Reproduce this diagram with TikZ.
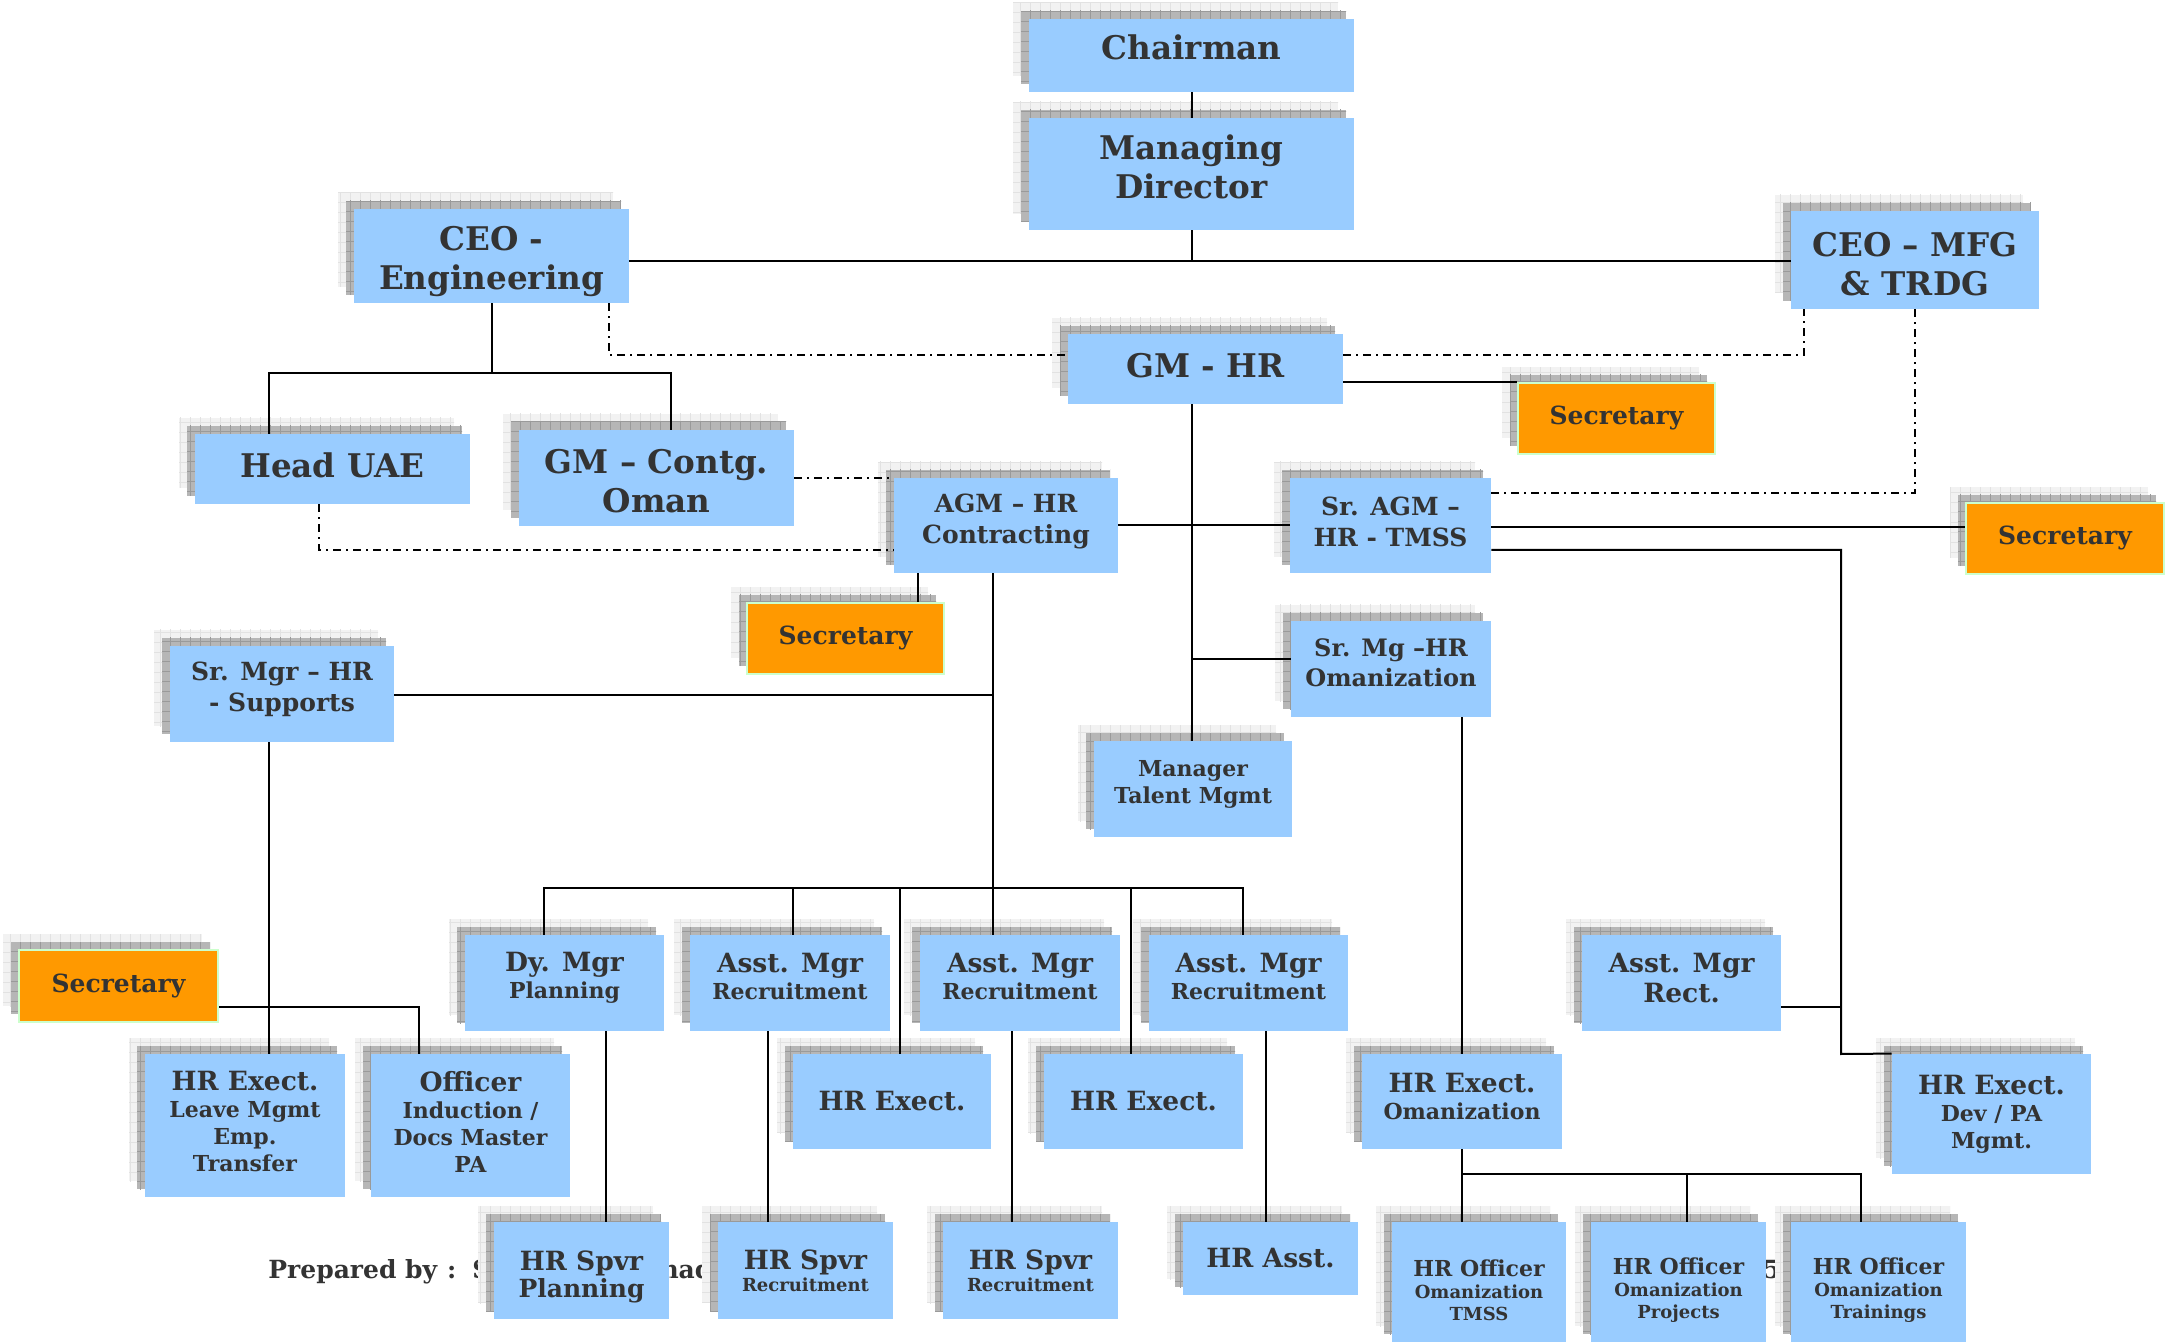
\documentclass[tikz,border=0pt]{standalone}
\usepackage{fontspec}
\setmainfont{DejaVu Serif}
\usetikzlibrary{shadows,patterns.meta}
\definecolor{boxblue}{HTML}{99CCFF}
\definecolor{secorange}{HTML}{FF9900}
\definecolor{secgreen}{HTML}{CCFFCC}
\definecolor{shlight}{HTML}{F2F2F2}
\definecolor{shlightline}{HTML}{E2E2E2}
\definecolor{shdark}{HTML}{B6B6B6}
\definecolor{shdarkline}{HTML}{9A9A9A}
\definecolor{txt}{HTML}{333333}
\newcommand\fszA{\bfseries\fontsize{16.3}{19.5}\selectfont}
\newcommand\fszB{\bfseries\fontsize{12.5}{15.5}\selectfont}
\newcommand\fszBs{\bfseries\fontsize{12}{15}\selectfont}
\newcommand\fszC{\bfseries\fontsize{13.25}{15}\selectfont}
\newcommand\fszD{\bfseries\fontsize{11}{13.5}\selectfont}
\newcommand\fszE{\bfseries\fontsize{12.5}{13.5}\selectfont}
\newcommand\fszF{\bfseries\fontsize{9}{11}\selectfont}
\newcommand\pushdown[1]{\rule{0pt}{#1}}
\tikzset{
  box/.style={fill=boxblue, text=txt, align=center, inner sep=0pt,
    copy shadow={shadow xshift=-8pt, shadow yshift=8pt, fill=shlight, draw=none,
      postaction={pattern={Hatch[distance=5pt, angle=0, line width=0.4pt]}, pattern color=shlightline}},
    copy shadow={shadow xshift=-4pt, shadow yshift=4pt, fill=shdark, draw=none,
      postaction={pattern={Hatch[distance=5pt, angle=0, line width=0.5pt]}, pattern color=shdarkline}}},
  secbox/.style={box, fill=secorange, draw=secgreen, line width=1pt},
  wh/.style 2 args={minimum width=#1*0.5pt, minimum height=#2*0.5pt},
  conn/.style={line width=1pt, draw=black},
  dd/.style={line width=0.75pt, draw=black, dash pattern=on 4pt off 2.5pt on 1pt off 2.5pt},
}
\begin{document}
\begin{tikzpicture}[x=0.5pt, y=-0.5pt]
\fill[white] (0,0) rectangle (2165,1342);
\useasboundingbox (0,0) rectangle (2165,1342);

% footer text (partly hidden behind boxes)
\node[font=\fszB, text=txt, anchor=base west, inner sep=0pt] (prep) at (268,1278) {Prepared by\hspace{5pt}:\hspace{8pt}Syed Mohammad};
\node[font=\fszB, text=txt, anchor=base east, inner sep=0pt] (five) at (1781,1278) {5};

% boxes
\node[box, wh={325}{73}, font=\fszA, text depth=8pt] (chair) at (1191.5,55.5) {Chairman};
\node[box, wh={325}{112}, font=\fszA, text depth=7pt] (md) at (1191.5,174) {Managing\\Director};
\node[box, wh={275}{94}, font=\fszA] (ceoe) at (491.5,256) {\pushdown{18pt}CEO -\\Engineering};
\node[box, wh={248}{98}, font=\fszA] (ceom) at (1915,260) {\pushdown{16pt}CEO – MFG\\\& TRDG};
\node[box, wh={275}{70}, font=\fszA, text depth=4pt] (gmhr) at (1205.5,369) {GM - HR};
\node[secbox, wh={197}{71}, font=\fszB] (sec1) at (1616.5,418.5) {Secretary};
\node[box, wh={275}{70}, font=\fszA, text depth=4pt] (huae) at (332.5,469) {Head UAE};
\node[box, wh={275}{96}, font=\fszA] (gmc) at (656.5,478) {\pushdown{15.5pt}GM – Contg.\\Oman};
\node[box, wh={224}{95}, font=\fszB, text depth=7pt] (agm) at (1006,525.5) {AGM – HR\\Contracting};
\node[box, wh={201}{95}, font=\fszB, text depth=4pt] (sragm) at (1390.5,525.5) {Sr. AGM –\\HR - TMSS};
\node[secbox, wh={198}{71}, font=\fszB] (sec2) at (2065,538.5) {Secretary};
\node[secbox, wh={197}{71}, font=\fszB] (sec3) at (845.5,638.5) {Secretary};
\node[box, wh={224}{96}, font=\fszB, text depth=7pt] (srsup) at (282,694) {Sr. Mgr – HR\\- Supports};
\node[box, wh={200}{96}, font=\fszBs, text depth=6pt] (sromn) at (1391,669) {Sr. Mg –HR\\Omanization};
\node[box, wh={198}{96}, font=\fszD, text depth=7.5pt] (mtm) at (1193,789) {Manager\\Talent Mgmt};
\node[secbox, wh={199}{72}, font=\fszB] (sec4) at (118.5,986) {Secretary};

\node[box, wh={199}{96}, font=\fszD, text depth=7.5pt] (dym) at (564.5,983) {{\fszC Dy. Mgr}\\Planning};
\node[box, wh={200}{96}, font=\fszD, text depth=7pt] (am1) at (790,983) {{\fszC Asst. Mgr}\\Recruitment};
\node[box, wh={200}{96}, font=\fszD, text depth=7pt] (am2) at (1020,983) {{\fszC Asst. Mgr}\\Recruitment};
\node[box, wh={199}{96}, font=\fszD, text depth=7pt] (am3) at (1248.5,983) {{\fszC Asst. Mgr}\\Recruitment};
\node[box, wh={199}{96}, font=\fszC, text depth=5pt] (amr) at (1681.5,983) {Asst. Mgr\\Rect.};

\node[box, wh={200}{143}, font=\fszD, text depth=4pt] (hrel) at (245,1125.5) {{\fszC HR Exect.}\\Leave Mgmt\\Emp.\\Transfer};
\node[box, wh={199}{143}, font=\fszD, text depth=4pt] (off) at (470.5,1125.5) {{\fszC Officer}\\Induction /\\Docs Master\\PA};
\node[box, wh={198}{95}, font=\fszC] (hre1) at (892,1101.5) {HR Exect.};
\node[box, wh={199}{95}, font=\fszC] (hre2) at (1143.5,1101.5) {HR Exect.};
\node[box, wh={200}{95}, font=\fszD, text depth=5pt] (hreo) at (1462,1101.5) {{\fszC HR Exect.}\\Omanization};
\node[box, wh={199}{120}, font=\fszD, text depth=2pt] (hrdev) at (1991.5,1114) {{\fszC HR Exect.}\\Dev / PA\\Mgmt.};

\node[box, wh={175}{97}, font=\fszE] (spp) at (581.5,1270.5) {{\fszC\pushdown{16pt}HR Spvr}\\Planning};
\node[box, wh={175}{97}, font=\fszF] (sp1) at (805.5,1270.5) {{\fszC HR Spvr}\\Recruitment};
\node[box, wh={175}{97}, font=\fszF] (sp2) at (1030.5,1270.5) {{\fszC HR Spvr}\\Recruitment};
\node[box, wh={175}{73}, font=\fszC] (hra) at (1270.5,1258.5) {HR Asst.};
\node[box, wh={174}{120}, font=\fszF] (ho1) at (1479,1282) {{\fszD\pushdown{16.5pt}HR Officer}\\Omanization\\TMSS};
\node[box, wh={175}{120}, font=\fszF] (ho2) at (1678.5,1282) {{\fszD\pushdown{16.5pt}HR Officer}\\Omanization\\Projects};
\node[box, wh={175}{120}, font=\fszF] (ho3) at (1878.5,1282) {{\fszD\pushdown{16.5pt}HR Officer}\\Omanization\\Trainings};

% connectors
\coordinate (j1) at (1192,261);
\draw[conn] (chair.south) -- (md.north);
\draw[conn] (md.south) -- (md.south |- j1);
\draw[conn] (ceoe.east |- j1) -- (ceom.west |- j1);
\coordinate (j2) at (492,373);
\draw[conn] (ceoe.south) -- (ceoe.south |- j2);
\draw[conn] (huae.north -| 269,0) |- (j2) -| (gmc.north -| 671,0);

\draw[dd] (ceoe.south -| 609,0) |- (gmhr.west |- 0,355);
\draw[dd] (gmhr.east |- 0,355) -| (ceom.south -| 1804,0);
\draw[dd] (ceom.south) |- (sragm.east |- 0,493);
\draw[dd] (gmc.east |- 0,478) -- (agm.west |- 0,478);
\draw[dd] (huae.south -| 319,0) |- (agm.west |- 0,550);

\draw[conn] (gmhr.east |- sec1.north) -- (sec1.north west);
\draw[conn] (gmhr.south -| j1) -- (mtm.north -| j1);
\draw[conn] (agm.east |- 0,525) -- (sragm.west |- 0,525);
\draw[conn] (j1 |- 0,659) -- (sromn.west |- 0,659);
\draw[conn] (sragm.east |- 0,527) -- (sec2.west |- 0,527);
\coordinate (j3) at (1841,1054);
\draw[conn] (sragm.east |- 0,550) -| (j3) -- (hrdev.north west);
\draw[conn] (amr.east |- 0,1007) -- (j3 |- 0,1007);

\draw[conn] (sromn.south -| hreo.north) -- (hreo.north);
\coordinate (j4) at (1462,1174);
\draw[conn] (hreo.south) -- (j4);
\draw[conn] (ho1.north -| j4) -- (j4) -| (ho3.north -| 1861,0);
\draw[conn] (j4 -| 1687,0) -- (ho2.north -| 1687,0);

\coordinate (j5) at (993,888);
\draw[conn] (agm.south -| j5) -- (am2.north -| j5);
\draw[conn] (srsup.east |- 0,695) -- (j5 |- 0,695);
\draw[conn] (agm.south -| 918,0) -- (sec3.north -| 918,0);
\draw[conn] (dym.north -| 544,0) |- (j5) -| (am3.north -| 1243,0);
\draw[conn] (j5 -| 793,0) -- (am1.north -| 793,0);
\draw[conn] (j5 -| 900,0) -- (hre1.north -| 900,0);
\draw[conn] (j5 -| 1131,0) -- (hre2.north -| 1131,0);

\draw[conn] (dym.south -| 606,0) -- (spp.north -| 606,0);
\draw[conn] (am1.south -| 768,0) -- (sp1.north -| 768,0);
\draw[conn] (am2.south -| 1012,0) -- (sp2.north -| 1012,0);
\draw[conn] (am3.south -| 1266,0) -- (hra.north -| 1266,0);

\draw[conn] (srsup.south -| 269,0) -- (hrel.north -| 269,0);
\draw[conn] (sec4.east |- 0,1007) -| (off.north -| 419,0);
\end{tikzpicture}
\end{document}
